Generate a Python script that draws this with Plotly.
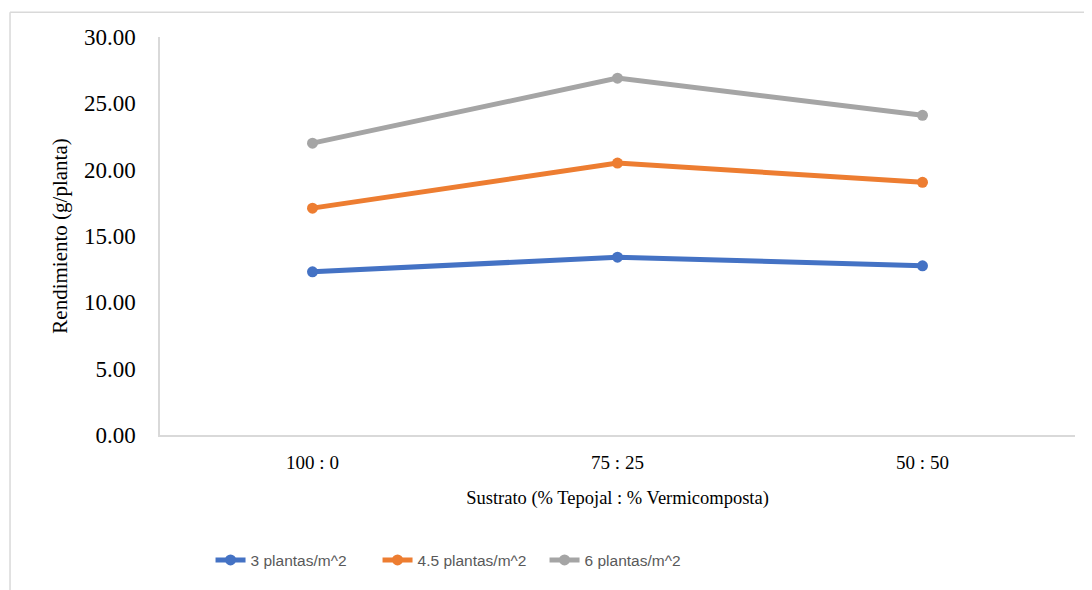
import plotly.graph_objects as go

# substrate mixes (% Tepojal : % Vermicomposta)
sustratos = ["100 : 0", "75 : 25", "50 : 50"]

# yield in g/planta per density
densidad_3 = [12.3, 13.4, 12.75]
densidad_45 = [17.1, 20.5, 19.05]
densidad_6 = [22.0, 26.9, 24.1]

series_names = ["3 plantas/m^2", "4.5 plantas/m^2", "6 plantas/m^2"]
colors = ["#4472C4", "#ED7D31", "#A5A5A5"]

y_ticks = [0, 5, 10, 15, 20, 25, 30]

fig = go.Figure()
for name, vals, color in zip(series_names, [densidad_3, densidad_45, densidad_6], colors):
    fig.add_trace(
        go.Scatter(
            x=sustratos,
            y=vals,
            name=name,
            mode="lines+markers",
            line=dict(color=color, width=5),
            marker=dict(color=color, size=11),
        )
    )

# light frame of the chart area (top and left edges)
fig.add_shape(type="line", xref="paper", yref="paper", x0=-0.1639, x1=1.03,
              y0=1.0625, y1=1.0625, line=dict(color="#D9D9D9", width=1.5))
fig.add_shape(type="line", xref="paper", yref="paper", x0=-0.1639, x1=-0.1639,
              y0=1.0625, y1=-0.4, line=dict(color="#D9D9D9", width=1.5))

serif = "Liberation Serif, Times New Roman, serif"

# page body has an 8px margin, so the figure is sized a bit smaller
fig.update_layout(
    width=1084,
    height=582,
    margin=dict(l=152, r=17, t=29, b=153),
    paper_bgcolor="white",
    plot_bgcolor="white",
    showlegend=True,
    legend=dict(
        orientation="h",
        x=0.329,
        xanchor="center",
        y=-0.315,
        yanchor="middle",
        font=dict(family="Liberation Sans, Arial, sans-serif",
                  size=15.5, color="#595959"),
        entrywidth=122,
    ),
    xaxis=dict(
        type="category",
        range=[-0.5, 2.5],
        showline=True,
        linecolor="#D9D9D9",
        linewidth=1.5,
        showgrid=False,
        ticks="",
        ticklabelstandoff=9,
        tickfont=dict(family=serif, size=19, color="#000000"),
        title=dict(text="Sustrato (% Tepojal : % Vermicomposta)",
                   font=dict(family=serif, size=18.5, color="#000000"), standoff=20),
    ),
    yaxis=dict(
        range=[0, 30],
        tickvals=y_ticks,
        tickformat=".2f",
        showline=True,
        linecolor="#D9D9D9",
        linewidth=1.5,
        showgrid=False,
        zeroline=False,
        ticks="",
        ticklabelstandoff=18,
        tickfont=dict(family=serif, size=23, color="#000000"),
        title=dict(text="Rendimiento (g/planta)",
                   font=dict(family=serif, size=21, color="#000000"), standoff=11),
    ),
)

fig.write_html("out.html")
